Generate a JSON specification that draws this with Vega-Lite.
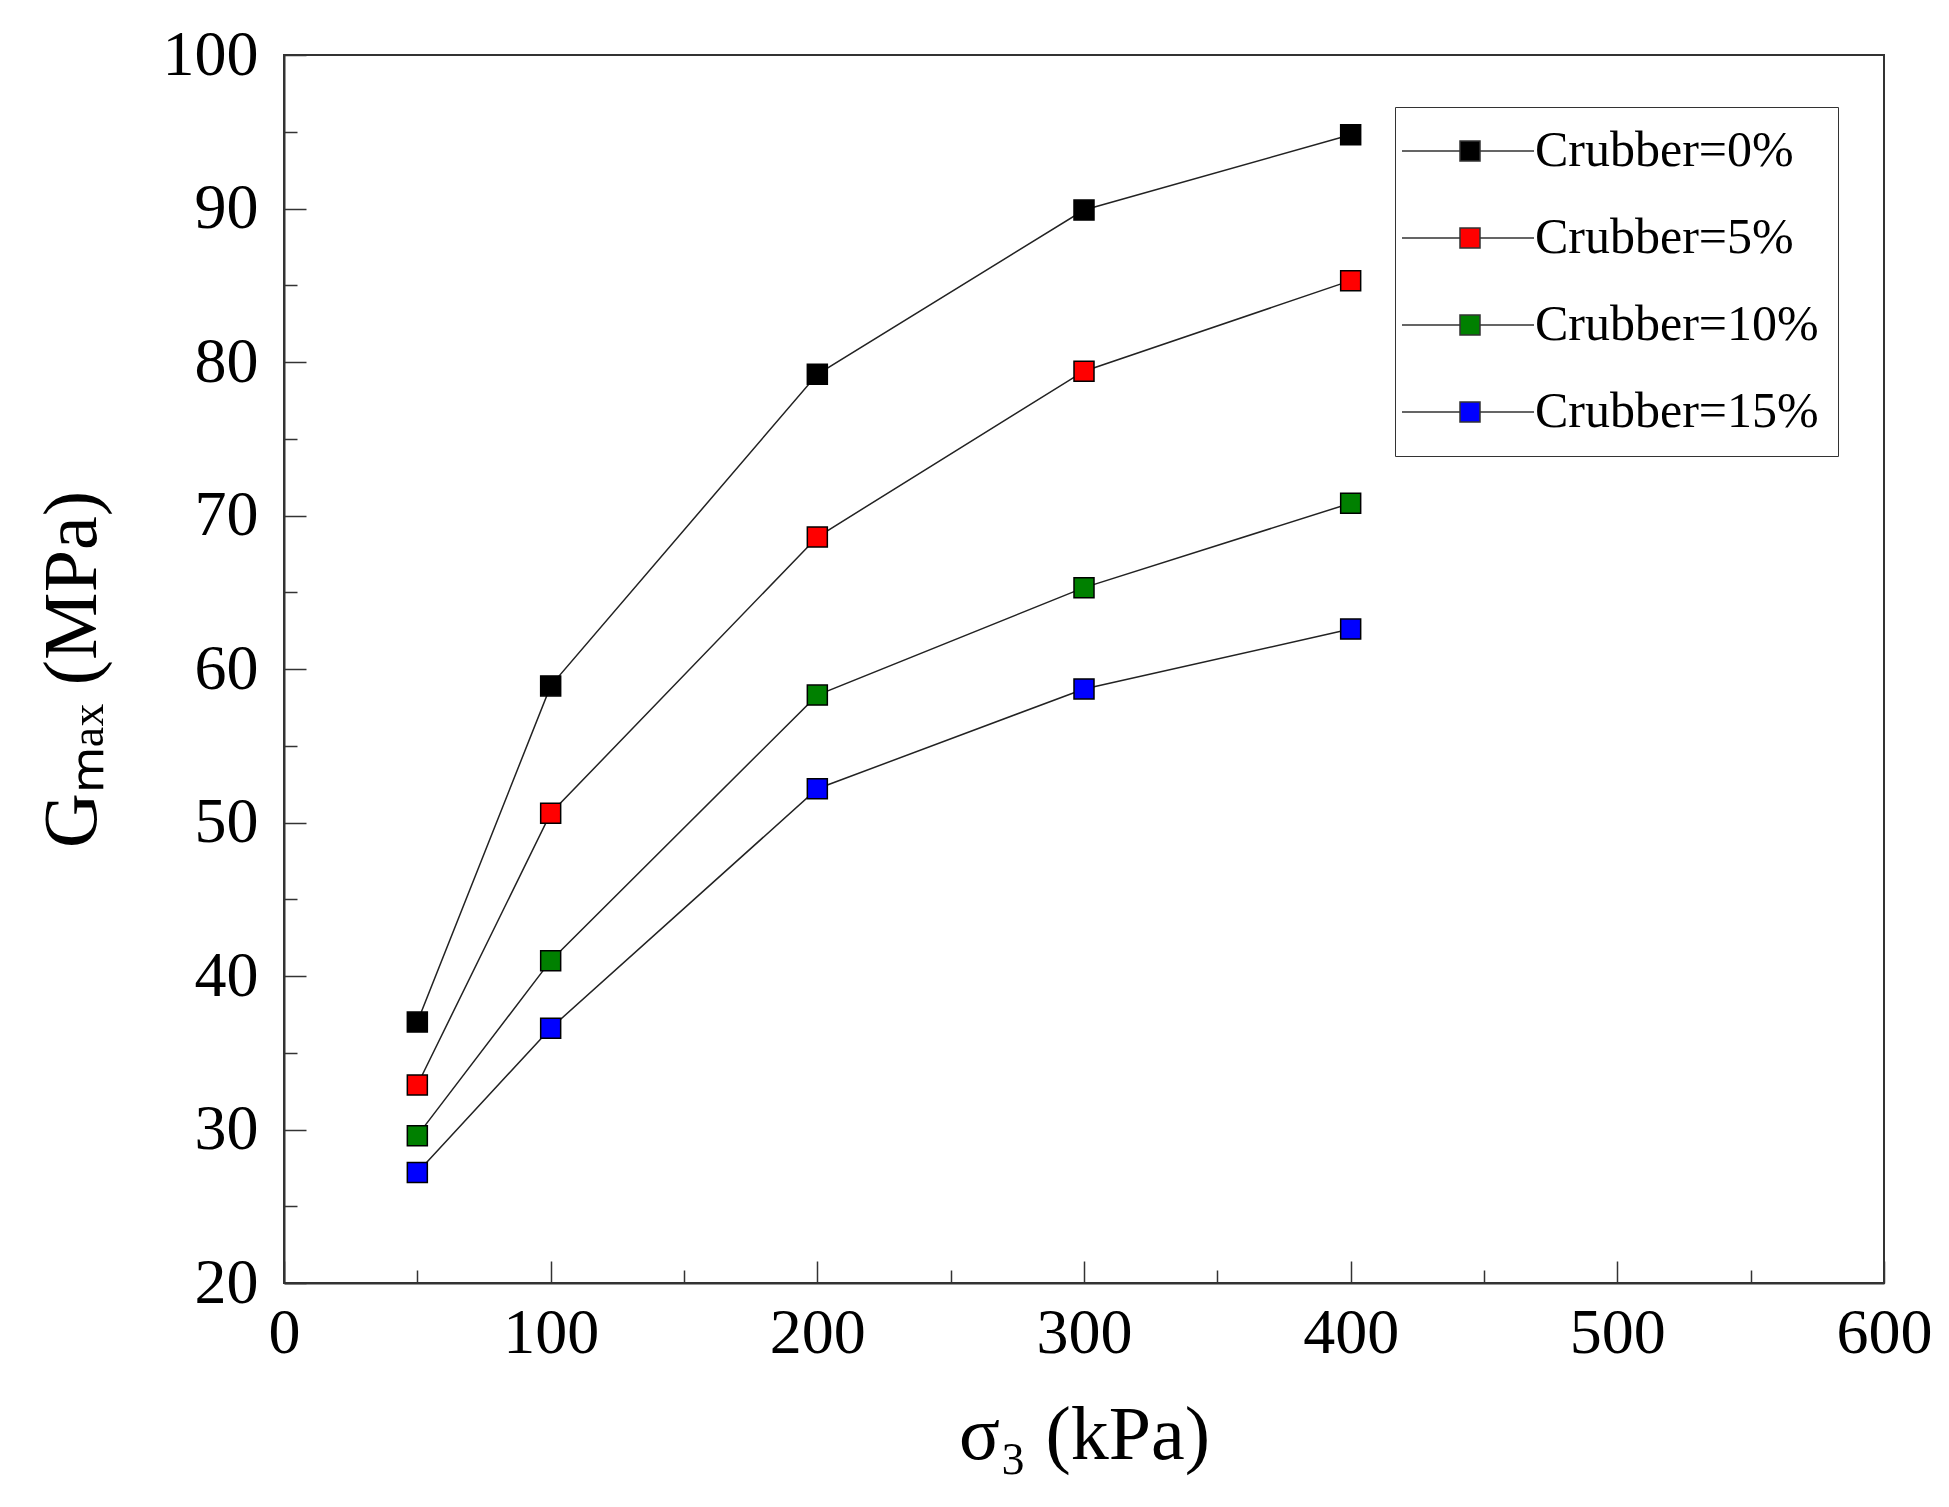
{
  "$schema": "https://vega.github.io/schema/vega-lite/v6.json",
  "width": 1600,
  "height": 1228,
  "autosize": {"type": "none"},
  "padding": {"left": 284, "top": 55, "right": 65, "bottom": 224},
  "background": "white",
  "config": {
    "font": "Liberation Serif",
    "view": {"stroke": "#333", "strokeWidth": 2},
    "axis": {
      "grid": false,
      "domainColor": "#333",
      "domainWidth": 2,
      "tickColor": "#333",
      "tickWidth": 1.5,
      "labelFont": "Liberation Serif",
      "labelFontSize": 64,
      "labelColor": "black",
      "titleFont": "Liberation Serif",
      "titleFontSize": 76,
      "titleFontWeight": "normal",
      "titleColor": "black"
    }
  },
  "data": {
    "values": [
      {"s": 50, "g": 37.0, "c": "Crubber=0%"},
      {"s": 100, "g": 58.9, "c": "Crubber=0%"},
      {"s": 200, "g": 79.2, "c": "Crubber=0%"},
      {"s": 300, "g": 89.9, "c": "Crubber=0%"},
      {"s": 400, "g": 94.8, "c": "Crubber=0%"},
      {"s": 50, "g": 32.9, "c": "Crubber=5%"},
      {"s": 100, "g": 50.6, "c": "Crubber=5%"},
      {"s": 200, "g": 68.6, "c": "Crubber=5%"},
      {"s": 300, "g": 79.4, "c": "Crubber=5%"},
      {"s": 400, "g": 85.3, "c": "Crubber=5%"},
      {"s": 50, "g": 29.6, "c": "Crubber=10%"},
      {"s": 100, "g": 41.0, "c": "Crubber=10%"},
      {"s": 200, "g": 58.3, "c": "Crubber=10%"},
      {"s": 300, "g": 65.3, "c": "Crubber=10%"},
      {"s": 400, "g": 70.8, "c": "Crubber=10%"},
      {"s": 50, "g": 27.2, "c": "Crubber=15%"},
      {"s": 100, "g": 36.6, "c": "Crubber=15%"},
      {"s": 200, "g": 52.2, "c": "Crubber=15%"},
      {"s": 300, "g": 58.7, "c": "Crubber=15%"},
      {"s": 400, "g": 62.6, "c": "Crubber=15%"}
    ]
  },
  "encoding": {
    "x": {
      "field": "s",
      "type": "quantitative",
      "scale": {"domain": [0, 600], "nice": false},
      "axis": {
        "title": "σ₃ (kPa)",
        "values": [0, 50, 100, 150, 200, 250, 300, 350, 400, 450, 500, 550, 600],
        "labelExpr": "datum.value % 100 === 0 ? datum.label : ''",
        "tickSize": {"condition": {"test": "datum.value % 100 === 0", "value": -22}, "value": -13},
        "labelPadding": 40,
        "labelBaseline": "top",
        "labelFlush": false,
        "labelOverlap": false,
        "titleX": 800,
        "titleY": 175,
        "titleBaseline": "alphabetic",
        "titleAlign": "center"
      }
    },
    "y": {
      "field": "g",
      "type": "quantitative",
      "scale": {"domain": [20, 100], "nice": false},
      "axis": {
        "title": "Gₘₐₓ (MPa)",
        "values": [20, 25, 30, 35, 40, 45, 50, 55, 60, 65, 70, 75, 80, 85, 90, 95, 100],
        "labelExpr": "datum.value % 10 === 0 ? datum.label : ''",
        "tickSize": {"condition": {"test": "datum.value % 10 === 0", "value": -22}, "value": -13},
        "labelPadding": 48,
        "labelFlush": false,
        "labelOverlap": false,
        "titleAngle": -90,
        "titleX": -212,
        "titleY": 614,
        "titleBaseline": "middle",
        "titleAlign": "center"
      }
    }
  },
  "layer": [
    {
      "mark": {"type": "line", "color": "#222", "strokeWidth": 1.5},
      "encoding": {"detail": {"field": "c"}}
    },
    {
      "mark": {"type": "square", "size": 400, "filled": true, "stroke": "black", "strokeWidth": 1.5, "opacity": 1},
      "encoding": {
        "fill": {
          "field": "c",
          "type": "nominal",
          "scale": {
            "domain": ["Crubber=0%", "Crubber=5%", "Crubber=10%", "Crubber=15%"],
            "range": ["#000000", "#ff0000", "#008000", "#0000ff"]
          },
          "legend": {
            "title": null,
            "orient": "none",
            "legendX": 1111,
            "legendY": 52,
            "direction": "vertical",
            "strokeColor": "#333",
            "padding": 19,
            "symbolType": "M-6.8,0H-1M1,0H6.4M-1,-1H1V1H-1Z",
            "symbolSize": 400,
            "symbolStrokeColor": "#333",
            "symbolStrokeWidth": 1.5,
            "symbolOffset": 31,
            "labelOffset": 40,
            "labelFont": "Liberation Serif",
            "labelFontSize": 50,
            "labelColor": "black",
            "labelLimit": 0,
            "rowPadding": 37
          }
        }
      }
    }
  ]
}
